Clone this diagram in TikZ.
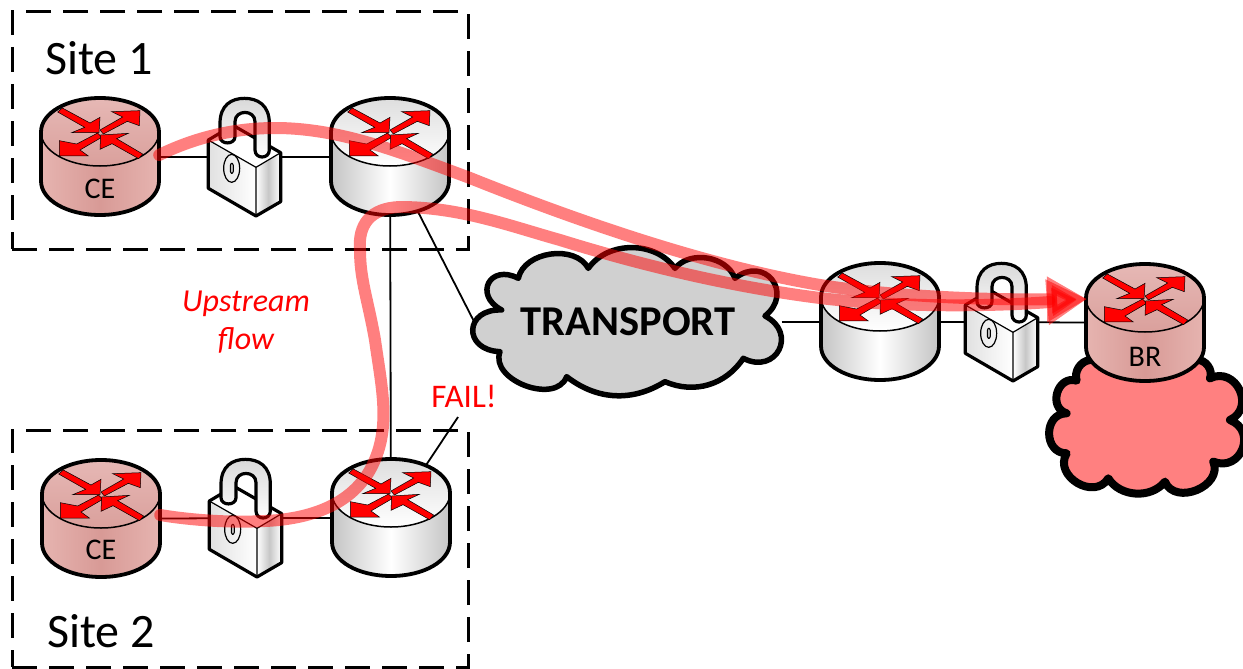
\documentclass[tikz,border=0pt]{standalone}
\usepackage{fontspec}
\setmainfont{Carlito}
\usetikzlibrary{arrows.meta}
\definecolor{routerRedEdge}{HTML}{E6B4B0}
\definecolor{routerRedMid}{HTML}{D89A96}
\definecolor{routerRedTopA}{HTML}{E6B8B5}
\definecolor{routerRedTopB}{HTML}{DAA09C}
\definecolor{routerGreyEdge}{HTML}{C4C4C4}
\definecolor{routerGreyTopA}{HTML}{DEDEDE}
\definecolor{cloudGrey}{HTML}{D0D0D0}
\definecolor{cloudRed}{HTML}{FF8080}
\tikzset{
  devicebox/.style={inner sep=0pt,minimum width=118pt,minimum height=117pt},
  lockbox/.style={inner sep=0pt,minimum width=74pt,minimum height=118pt},
  bodygrey/.style={left color=routerGreyEdge,right color=routerGreyEdge,middle color=white},
  topgrey/.style={top color=routerGreyTopA,bottom color=white},
  bodyred/.style={left color=routerRedEdge,right color=routerRedEdge,middle color=routerRedMid},
  topred/.style={top color=routerRedTopA,bottom color=routerRedTopB},
  wire/.style={black,line width=1.8pt},
  sitebox/.style={draw,line width=3pt,dash pattern=on 25pt off 12pt,inner sep=0pt,minimum width=456pt,minimum height=237pt},
  flowline/.style={red,line width=12pt,opacity=.5,line cap=round,-{Triangle[length=40pt,width=43pt]}},
  arrowshape/.style={fill=red,draw=black,line width=.5pt,line join=miter},
  label/.style={inner sep=0pt,font=\fontsize{30}{34}\selectfont},
}
\newcommand{\drawrouter}[2]{%
  \begin{scope}[shift={(#1.center)}]
  \path[body#2] (-59,-25)--(-59,24) .. controls (-59,43) and (-33,58) .. (0,58) .. controls (33,58) and (59,43) .. (59,24)--(59,-25)--cycle;
  \path[top#2,draw=black,line width=1.5pt] (0,-25) ellipse [x radius=59pt,y radius=34pt];
  \draw[line width=3.8pt,line join=round] (-59,24)--(-59,-25) .. controls (-59,-44) and (-33,-59) .. (0,-59) .. controls (33,-59) and (59,-44) .. (59,-25)--(59,24) .. controls (59,43) and (33,58) .. (0,58) .. controls (-33,58) and (-59,43) .. (-59,24)--cycle;
  \end{scope}
  \begin{scope}[shift={(#1.center)},yshift=25pt,scale=.3333]
  \path[arrowshape] (-127,-60)--(-113,-72)--(-30,-27)--(0,-44)--(-3,2)--(-85,2)--(-46,-14)--cycle;
  \path[arrowshape] (0,-6)--(10,6)--(82,-32)--(118,-19)--(120,-64)--(35,-61)--(68,-45)--cycle;
  \path[arrowshape] (-7,3)--(-70,36)--(-122,26)--(-122,72)--(-35,72)--(-60,54)--(5,16)--cycle;
  \path[arrowshape] (128,66)--(50,20)--(85,4)--(2,9)--(0,52)--(36,35)--(116,80)--cycle;
  \end{scope}}
\newcommand{\drawlock}[1]{%
  \begin{scope}[shift={(#1.center)},scale=.3333,shift={(-113,-51)},line join=round]
  \path[fill=white] (0,0)--(74,-44)--(217,38)--(143,82)--cycle;
  \path[left color=black!12,right color=white] (0,0)--(143,82)--(143,228)--(0,145)--cycle;
  \path[left color=white,right color=white,middle color=black!22] (143,82)--(217,38)--(217,185)--(143,228)--cycle;
  \draw[line width=1.2pt] (0,0)--(143,82)--(217,38) (143,82)--(143,228);
  \draw[line width=3.2pt] (0,0)--(74,-44)--(217,38)--(217,185)--(143,228)--(0,145)--cycle;
  \draw[line width=1.2pt] (70,85) ellipse [x radius=24pt,y radius=42pt];
  \draw[line width=1pt,fill=black!25,rounded corners=2pt] (66,70) rectangle (75,100);
  \draw[line width=3.2pt,top color=black!15,bottom color=white]
    (35,-50) .. controls (35,-105) and (70,-125) .. (108,-125)
    .. controls (148,-125) and (183,-105) .. (183,-50) -- (183,30)
    .. controls (183,58) and (140,58) .. (140,30) -- (140,-55)
    .. controls (140,-92) and (80,-92) .. (80,-55) -- (80,-10)
    .. controls (80,15) and (35,15) .. (35,-10) -- cycle;
  \end{scope}}
\begin{document}
\begin{tikzpicture}[x=1pt,y=-1pt]
\useasboundingbox (0,0) rectangle (1243,669);
% anchors for all devices
\node[devicebox] (ce1) at (100,157) {};
\node[devicebox] (r1) at (390,157) {};
\node[devicebox] (ce2) at (101,519) {};
\node[devicebox] (r2) at (391,518) {};
\node[devicebox] (r3) at (880,322) {};
\node[devicebox] (br) at (1145,323) {};
\node[lockbox] (l1) at (246,157) {};
\node[lockbox] (l2) at (1003,322) {};
\node[lockbox] (l3) at (247,518) {};
\node[inner sep=0pt,minimum width=307pt,minimum height=140pt] (transport) at (628,322) {};
\coordinate (failend) at (458,417);
\coordinate (brin) at (1087,299);
% connectors
\draw[wire] (ce1.center)--(l1.center)--(r1.center);
\draw[wire] (ce2.center)--(l3.center)--(r2.center);
\draw[wire] (r3.center)--(l2.center)--(br.center);
\draw[wire] (r1.center)--(r2.center);
\draw[wire] (r1.center)--(transport.west);
\draw[wire] (transport.east)--(r3.center);
\draw[wire] (r2.center)--(failend);
% site boxes
\node[sitebox] (site1) at (240,130.5) {};
\node[sitebox] (site2) at (240,548.5) {};
% transport cloud
\begin{scope}[shift={(460,240)},scale=.3333]
\draw[line width=5.5pt,fill=cloudGrey,line join=round]
 (175,115) to[bend left=70] (385,85) to[bend left=55] (645,85) to[bend left=60] (825,115)
 to[bend left=90,looseness=2] (915,228) to[bend left=90,looseness=2] (850,355)
 to[bend left=40] (615,425) to[bend left=35] (320,410) to[bend left=90,looseness=1.1] (120,335)
 to[bend left=90,looseness=2.3] (125,210) to[bend left=90,looseness=2.3] cycle;
\end{scope}
% red cloud
\begin{scope}[shift={(800,250)},scale=.3333]
\draw[line width=8pt,fill=cloudRed,line join=round]
 (870,330) to[bend right=50] (830,392) to[bend right=90,looseness=1.5] (800,490)
 to[bend right=90,looseness=1.5] (800,610) to[bend right=90,looseness=1.4] (925,685)
 to[bend right=55] (1095,695) to[bend right=90,looseness=1.3] (1240,635)
 to[bend right=90,looseness=1.7] (1290,510) to[bend right=90,looseness=1.6] (1230,385)
 to[bend right=60] (1190,330) -- cycle;
\end{scope}
% devices
\drawrouter{ce1}{red}
\drawrouter{r1}{grey}
\drawrouter{ce2}{red}
\drawrouter{r2}{grey}
\drawrouter{r3}{grey}
\drawrouter{br}{red}
\drawlock{l1}
\drawlock{l2}
\drawlock{l3}
% labels
\node[label] (ce1t) at (100,189) {CE};
\node[label] (ce2t) at (101,550) {CE};
\node[label] (brt) at (1145,357) {BR};
\node[inner sep=0pt,font=\fontsize{42.5}{46}\bfseries\selectfont] (transportt) at (628,322) {TRANSPORT};
\node[inner sep=0pt,font=\fontsize{48}{52}\selectfont] (site1t) at (99,58) {Site 1};
\node[inner sep=0pt,font=\fontsize{48}{52}\selectfont] (site2t) at (101,631) {Site 2};
\node[inner sep=0pt,red,align=center,font=\fontsize{32}{38}\itshape\selectfont] (upstream) at (246,322) {Upstream\\flow};
\node[inner sep=0pt,red,font=\fontsize{33}{36}\selectfont] (fail) at (464,396) {FAIL!};
% flows
\draw[flowline] (ce1.east) ++(0,-2) .. controls (200,135) and (240,128) .. (275,128)
  .. controls (340,128) and (400,152) .. (470,178)
  .. controls (600,230) and (720,268) .. (820,285)
  .. controls (890,296) and (980,300) .. (brin);
\draw[flowline] (ce2.east) ++(0,-4) .. controls (190,520) and (230,523) .. (265,521)
  .. controls (310,519) and (350,505) .. (370,470)
  .. controls (392,430) and (382,390) .. (375,340)
  .. controls (368,300) and (360,280) .. (360,250)
  .. controls (358,225) and (370,208) .. (400,207)
  .. controls (460,207) and (510,226) .. (560,240)
  .. controls (650,268) and (740,288) .. (820,298)
  .. controls (900,308) and (1000,306) .. (brin);
\end{tikzpicture}
\end{document}
